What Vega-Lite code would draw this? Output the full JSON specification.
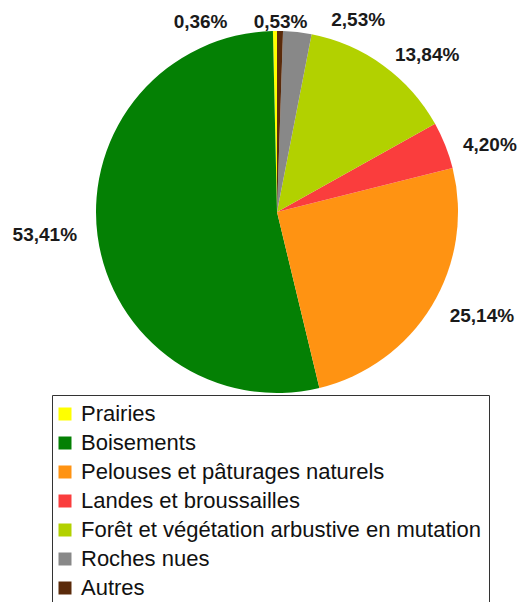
{
  "$schema": "https://vega.github.io/schema/vega-lite/v6.json",
  "width": 486,
  "height": 424,
  "padding": {"left": 34, "top": 0, "right": 0, "bottom": 178},
  "autosize": {"type": "none"},
  "background": "white",
  "config": {"view": {"stroke": null}, "font": "Liberation Sans"},
  "data": {
    "values": [
      {"cat": "Prairies", "rank": 1, "value": 0.36, "label": "0,36%"},
      {"cat": "Boisements", "rank": 2, "value": 53.41, "label": "53,41%"},
      {"cat": "Pelouses et pâturages naturels", "rank": 3, "value": 25.14, "label": "25,14%"},
      {"cat": "Landes et broussailles", "rank": 4, "value": 4.20, "label": "4,20%"},
      {"cat": "Forêt et végétation arbustive en mutation", "rank": 5, "value": 13.84, "label": "13,84%"},
      {"cat": "Roches nues", "rank": 6, "value": 2.53, "label": "2,53%"},
      {"cat": "Autres", "rank": 7, "value": 0.53, "label": "0,53%"}
    ]
  },
  "encoding": {
    "theta": {"field": "value", "type": "quantitative", "stack": true, "scale": {"reverse": true}},
    "order": {"field": "rank", "type": "quantitative"},
    "color": {
      "field": "cat",
      "type": "nominal",
      "sort": ["Prairies", "Boisements", "Pelouses et pâturages naturels", "Landes et broussailles", "Forêt et végétation arbustive en mutation", "Roches nues", "Autres"],
      "scale": {
        "domain": ["Prairies", "Boisements", "Pelouses et pâturages naturels", "Landes et broussailles", "Forêt et végétation arbustive en mutation", "Roches nues", "Autres"],
        "range": ["#FFFF00", "#048004", "#FF9312", "#FA3D3D", "#B2D100", "#888888", "#5A2A0A"]
      },
      "legend": {
        "title": null,
        "orient": "none",
        "legendX": 18,
        "legendY": 395,
        "direction": "vertical",
        "symbolType": "square",
        "symbolSize": 169,
        "symbolStrokeWidth": 0,
        "symbolOffset": -6,
        "labelFontSize": 22,
        "labelFont": "Liberation Sans",
        "labelColor": "#111111",
        "labelLimit": 600,
        "labelOffset": 5,
        "rowPadding": 7,
        "padding": 8,
        "strokeColor": "#333333",
        "fillColor": "white"
      }
    }
  },
  "layer": [
    {"mark": {"type": "arc", "outerRadius": 181}},
    {
      "mark": {"type": "text", "radius": 215, "dx": -19, "dy": -5, "fontSize": 19, "fontWeight": "bold"},
      "encoding": {"text": {"condition": {"test": "datum.cat === 'Boisements'", "field": "label"}, "value": ""}, "fill": {"value": "#1a1a1a"}}
    },
    {
      "mark": {"type": "text", "radius": 215, "dx": 21, "dy": -7, "fontSize": 19, "fontWeight": "bold"},
      "encoding": {"text": {"condition": {"test": "datum.cat === 'Pelouses et pâturages naturels'", "field": "label"}, "value": ""}, "fill": {"value": "#1a1a1a"}}
    },
    {
      "mark": {"type": "text", "radius": 215, "dx": 13, "dy": 12, "fontSize": 19, "fontWeight": "bold"},
      "encoding": {"text": {"condition": {"test": "datum.cat === 'Landes et broussailles'", "field": "label"}, "value": ""}, "fill": {"value": "#1a1a1a"}}
    },
    {
      "mark": {"type": "text", "radius": 215, "dx": 24, "dy": 17, "fontSize": 19, "fontWeight": "bold"},
      "encoding": {"text": {"condition": {"test": "datum.cat === 'Forêt et végétation arbustive en mutation'", "field": "label"}, "value": ""}, "fill": {"value": "#1a1a1a"}}
    },
    {
      "mark": {"type": "text", "radius": 215, "dx": 57, "dy": 22, "fontSize": 19, "fontWeight": "bold"},
      "encoding": {"text": {"condition": {"test": "datum.cat === 'Roches nues'", "field": "label"}, "value": ""}, "fill": {"value": "#1a1a1a"}}
    },
    {
      "mark": {"type": "text", "radius": 215, "dx": 0, "dy": 25, "fontSize": 19, "fontWeight": "bold"},
      "encoding": {"text": {"condition": {"test": "datum.cat === 'Autres'", "field": "label"}, "value": ""}, "fill": {"value": "#1a1a1a"}}
    },
    {
      "mark": {"type": "text", "radius": 215, "dx": -74, "dy": 25, "fontSize": 19, "fontWeight": "bold"},
      "encoding": {"text": {"condition": {"test": "datum.cat === 'Prairies'", "field": "label"}, "value": ""}, "fill": {"value": "#1a1a1a"}}
    }
  ]
}
